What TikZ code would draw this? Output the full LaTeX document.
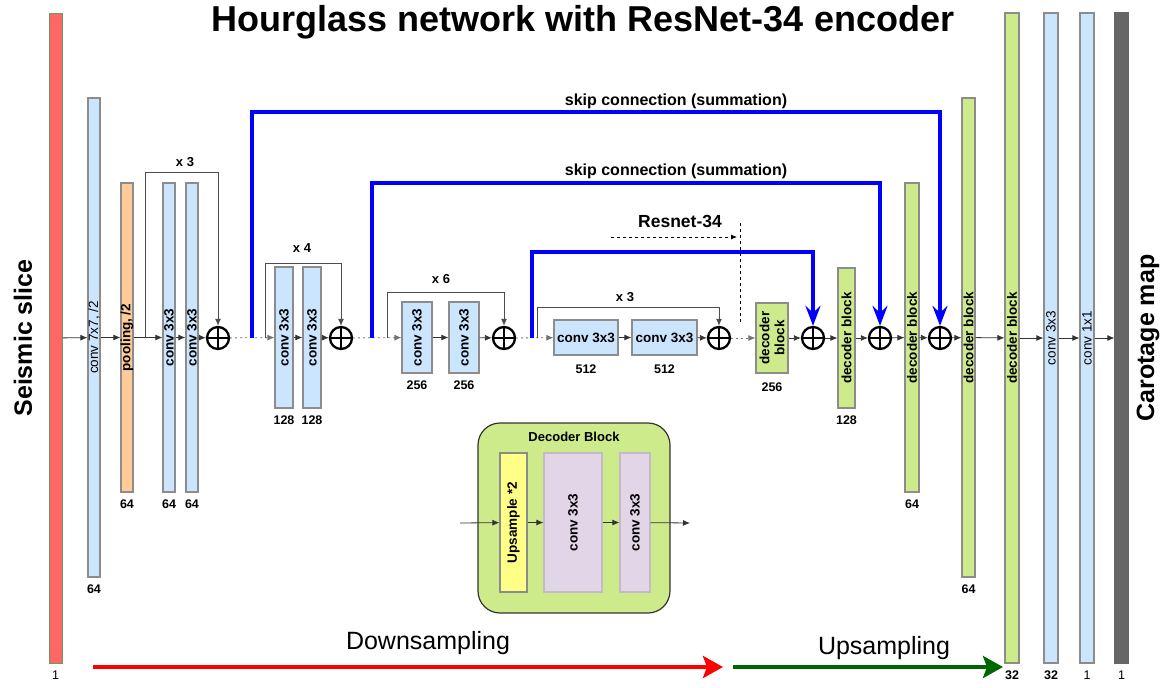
\documentclass[tikz,border=0pt]{standalone}
\usepackage{fontspec}
\setmainfont{Liberation Sans}
\usetikzlibrary{arrows.meta, positioning}

\definecolor{convblue}{HTML}{CCE5FF}
\definecolor{poolorange}{HTML}{FFCC99}
\definecolor{decgreen}{HTML}{CDEB8B}
\definecolor{inred}{HTML}{FF6666}
\definecolor{outgray}{HTML}{666666}
\definecolor{upyellow}{HTML}{FFFF88}
\definecolor{convlilac}{HTML}{E1D5E7}
\definecolor{barline}{HTML}{8C8C8C}
\definecolor{downgreen}{HTML}{006600}

\begin{document}
\begin{tikzpicture}[
    x=1pt, y=-1pt,
    bar/.style={draw=barline, line width=1.2pt, inner sep=0, minimum width=12},
    vtext/.style={rotate=90, inner sep=0, font=\fontsize{13.5}{15}\selectfont\bfseries},
    vthin/.style={rotate=90, inner sep=0, font=\fontsize{13.5}{15}\selectfont},
    htext/.style={font=\fontsize{13.5}{15}\selectfont\bfseries},
    numlbl/.style={inner sep=0, font=\fontsize{12.5}{14}\selectfont\bfseries},
    replbl/.style={inner sep=0, font=\fontsize{13}{15}\selectfont\bfseries},
    sidelbl/.style={rotate=90, inner sep=0, font=\fontsize{25}{28}\selectfont\bfseries},
    sumnode/.style={circle, draw, line width=2.3pt, minimum size=22, inner sep=0,
        path picture={\draw[line width=2.3pt] (path picture bounding box.north) -- (path picture bounding box.south)
            (path picture bounding box.west) -- (path picture bounding box.east);}},
    pipe/.style={-{Latex[length=7pt,width=6pt]}, draw=black!80, line width=0.8pt},
    dotpipe/.style={pipe, draw=black!55, dash pattern=on 2pt off 3pt},
    resline/.style={-{Latex[length=7pt,width=6pt]}, draw=black!70, line width=0.9pt},
    skipline/.style={-{Stealth[length=20pt,width=15pt,inset=7pt]}, draw=blue, line width=3.8pt},
    bigarrow/.style={-{Stealth[length=20pt,width=22pt,inset=4pt]}, line width=4.5pt}
]
\useasboundingbox (0,0) rectangle (1165,688);

% Title
\node[font=\fontsize{36}{42}\selectfont\bfseries] (title) at (583,22) {Hourglass network with ResNet-34 encoder};

% Input and encoder layers
\node[bar, fill=inred, draw=green!25!gray, line width=0.6pt, minimum width=13, minimum height=650] (input) at (55.5,338) {};
\node[sidelbl] (inname) at (23,338) {Seismic slice};
\node[bar, fill=convblue, minimum height=479, label={[vthin]center:{conv 7x7, /2}}] (conv7) at (94,337.5) {};
\node[bar, fill=poolorange, minimum height=309, label={[vtext]center:{pooling, /2}}] (pool) at (127,337.5) {};
\node[bar, fill=convblue, minimum height=309, label={[vtext]center:{conv 3x3}}] (c64a) at (169,337.5) {};
\node[bar, fill=convblue, minimum height=309, label={[vtext]center:{conv 3x3}}] (c64b) at (192,337.5) {};
\node[sumnode] (sum1) at (218,338) {};

\node[bar, fill=convblue, minimum width=18, minimum height=141, label={[vtext]center:{conv 3x3}}] (c128a) at (284,337.5) {};
\node[bar, fill=convblue, minimum width=18, minimum height=141, label={[vtext]center:{conv 3x3}}] (c128b) at (312,337.5) {};
\node[sumnode] (sum2) at (341,338) {};

\node[bar, fill=convblue, minimum width=30, minimum height=71, label={[vtext]center:{conv 3x3}}] (c256a) at (417,337.5) {};
\node[bar, fill=convblue, minimum width=30, minimum height=71, label={[vtext]center:{conv 3x3}}] (c256b) at (464,337.5) {};
\node[sumnode] (sum3) at (504,338) {};

\node[bar, fill=convblue, minimum width=64, minimum height=35, htext] (c512a) at (586,337.5) {conv 3x3};
\node[bar, fill=convblue, minimum width=65, minimum height=35, htext] (c512b) at (664.5,337.5) {conv 3x3};
\node[sumnode] (sum4) at (719,338) {};

% Decoder layers
\node[bar, fill=decgreen, minimum width=32, minimum height=70, label={[vtext, align=center]center:{decoder\\block}}] (dec256) at (772,338) {};
\node[sumnode] (sum5) at (813,338) {};
\node[bar, fill=decgreen, minimum width=17, minimum height=140, label={[vtext]center:{decoder block}}] (dec128) at (846.5,338) {};
\node[sumnode] (sum6) at (880,338) {};
\node[bar, fill=decgreen, minimum width=14, minimum height=309, label={[vtext]center:{decoder block}}] (dec64a) at (912,337.5) {};
\node[sumnode] (sum7) at (940,338) {};
\node[bar, fill=decgreen, minimum width=13, minimum height=479, label={[vtext]center:{decoder block}}] (dec64b) at (968.5,337.5) {};
\node[bar, fill=decgreen, minimum width=14, minimum height=650, label={[vtext]center:{decoder block}}] (dec32) at (1012,338) {};
\node[bar, fill=convblue, minimum width=14, minimum height=650, label={[vthin]center:{conv 3x3}}] (conv33) at (1051,338) {};
\node[bar, fill=convblue, minimum width=14, minimum height=650, label={[vthin]center:{conv 1x1}}] (conv11) at (1087,338) {};
\node[bar, fill=outgray, draw=outgray, minimum width=13, minimum height=650] (output) at (1121.5,338) {};
\node[sidelbl] (outname) at (1148,338) {Carotage map};

% Channel numbers
\node[numlbl, font=\fontsize{12.5}{14}\selectfont, below=7pt of input] (ninput) {1};
\node[numlbl, below=7pt of conv7] (nconv7) {64};
\node[numlbl, below=7pt of pool] (npool) {64};
\node[numlbl, below=7pt of c64a] (nc64a) {64};
\node[numlbl, below=7pt of c64b] (nc64b) {64};
\node[numlbl, below=7pt of c128a] (nc128a) {128};
\node[numlbl, below=7pt of c128b] (nc128b) {128};
\node[numlbl, below=7pt of c256a] (nc256a) {256};
\node[numlbl, below=7pt of c256b] (nc256b) {256};
\node[numlbl, below=9pt of c512a] (nc512a) {512};
\node[numlbl, below=9pt of c512b] (nc512b) {512};
\node[numlbl, below=9pt of dec256] (ndec256) {256};
\node[numlbl, below=7pt of dec128] (ndec128) {128};
\node[numlbl, below=7pt of dec64a] (ndec64a) {64};
\node[numlbl, below=7pt of dec64b] (ndec64b) {64};
\node[numlbl, below=7pt of dec32] (ndec32) {32};
\node[numlbl, below=7pt of conv33] (nconv33) {32};
\node[numlbl, font=\fontsize{12.5}{14}\selectfont, below=7pt of conv11] (nconv11) {1};
\node[numlbl, font=\fontsize{12.5}{14}\selectfont, below=7pt of output] (noutput) {1};

% Main path
\draw[pipe] (input) -- (conv7);
\draw[pipe] (conv7) -- (pool);
\draw[pipe] (pool) -- (c64a);
\draw[pipe] (c64a) -- (c64b);
\draw[pipe] (c64b) -- (sum1);
\draw[dotpipe] (sum1) -- (c128a);
\draw[pipe] (c128a) -- (c128b);
\draw[pipe] (c128b) -- (sum2);
\draw[dotpipe] (sum2) -- (c256a);
\draw[pipe] (c256a) -- (c256b);
\draw[pipe] (c256b) -- (sum3);
\draw[dotpipe] (sum3) -- (c512a);
\draw[pipe] (c512a) -- (c512b);
\draw[pipe] (c512b) -- (sum4);
\draw[dotpipe] (sum4) -- (dec256);
\draw[pipe] (dec256) -- (sum5);
\draw[pipe] (sum5) -- (dec128);
\draw[pipe] (dec128) -- (sum6);
\draw[pipe] (sum6) -- (dec64a);
\draw[pipe] (dec64a) -- (sum7);
\draw[pipe] (sum7) -- (dec64b);
\draw[pipe] (dec64b) -- (dec32);
\draw[pipe] (dec32) -- (conv33);
\draw[pipe] (conv33) -- (conv11);
\draw[pipe] (conv11) -- (output);

% Residual repeats
\coordinate (br1) at (145,338);
\coordinate (br2) at (265,338);
\coordinate (br3) at (387,338);
\coordinate (br4) at (537,338);
\draw[resline] (br1) -- ++(0,-166) -| (sum1);
\draw[resline] (br2) -- ++(0,-75) -| (sum2);
\draw[resline] (br3) -- ++(0,-46) -| (sum3);
\draw[resline] (br4) -- ++(0,-31) -| (sum4);
\node[replbl] (rep3a) at (185,162) {x 3};
\node[replbl] (rep4) at (302,248) {x 4};
\node[replbl] (rep6) at (441,279) {x 6};
\node[replbl] (rep3b) at (625,297) {x 3};

% Skip connections
\coordinate (sk1) at (252,338);
\coordinate (sk2) at (372,338);
\coordinate (sk3) at (532,338);
\draw[skipline] (sk1) -- ++(0,-226) -| (sum7);
\draw[skipline] (sk2) -- ++(0,-155) -| (sum6);
\draw[skipline] (sk3) -- ++(0,-86) -| (sum5);
\node[replbl, font=\fontsize{16}{18}\selectfont\bfseries] (skiplbl1) at (676,101) {skip connection (summation)};
\node[replbl, font=\fontsize{16}{18}\selectfont\bfseries] (skiplbl2) at (676,171) {skip connection (summation)};

% Encoder limit
\node[replbl, font=\fontsize{17.5}{20}\selectfont\bfseries] (resnet) at (680,221) {Resnet-34};
\coordinate (rs0) at (611,237);
\coordinate (rs1) at (737,237);
\coordinate (lim0) at (740,223);
\coordinate (lim1) at (740,323);
\draw[-{Latex[length=6pt,width=5pt]}, dashed, line width=0.8pt] (rs0) -- (rs1);
\draw[dashed, line width=0.8pt] (lim0) -- (lim1);

% Decoder block detail
\node[draw=black!80, line width=1.2pt, rounded corners=22, fill=decgreen, minimum width=192, minimum height=190] (decbox) at (574,518) {};
\node[replbl] (dectitle) at (574,437) {Decoder Block};
\node[bar, fill=upyellow, minimum width=27, minimum height=139, label={[vtext]center:{Upsample *2}}] (ups) at (513.5,522.5) {};
\node[bar, fill=convlilac, draw=convlilac!70!gray, minimum width=58, minimum height=139, label={[vtext]center:{conv 3x3}}] (dconvA) at (573,522.5) {};
\node[bar, fill=convlilac, draw=convlilac!70!gray, minimum width=30, minimum height=139, label={[vtext]center:{conv 3x3}}] (dconvB) at (635,522.5) {};
\coordinate (din) at (460,523);
\coordinate (dout) at (690,523);
\draw[pipe] (din) -- (ups);
\draw[pipe] (ups) -- (dconvA);
\draw[pipe] (dconvA) -- (dconvB);
\draw[pipe] (dconvB) -- (dout);

% Sampling directions
\coordinate (ds0) at (93,667);
\coordinate (ds1) at (723,667);
\coordinate (us0) at (733,667);
\coordinate (us1) at (1003,667);
\draw[bigarrow, draw=red, fill=red] (ds0) -- (ds1);
\draw[bigarrow, draw=downgreen, fill=downgreen] (us0) -- (us1);
\node[font=\fontsize{25}{28}\selectfont] (downlbl) at (428,643) {Downsampling};
\node[font=\fontsize{25}{28}\selectfont] (uplbl) at (884,648) {Upsampling};

\end{tikzpicture}
\end{document}
